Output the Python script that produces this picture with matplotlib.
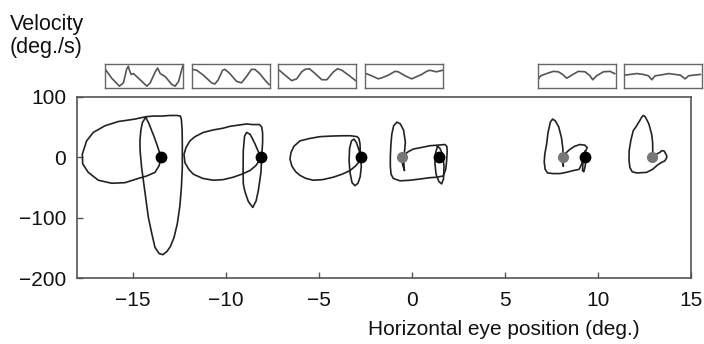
import matplotlib
matplotlib.use("Agg")
import matplotlib.pyplot as plt

plt.rcParams['font.family'] = ['Liberation Sans', 'DejaVu Sans']

# ---- phase-plane loops (eye position deg, velocity deg/s) ----
loop1_x = [-13.50, -13.62, -13.73, -13.88, -14.00, -14.15, -14.27, -14.30,
           -13.90, -13.46, -13.00, -12.65, -12.45, -12.40, -12.36, -12.35, -12.35, -12.40,
           -12.48, -12.62, -12.80, -13.00, -13.19, -13.40, -13.60, -13.82, -14.00, -14.18,
           -14.35, -14.54, -14.62, -14.63, -14.58, -14.50, -14.36, -14.30,
           -14.90, -15.79, -16.51, -17.14, -17.50, -17.73, -17.71, -17.41, -16.87, -16.15,
           -15.43, -14.72, -14.27, -13.82, -13.60, -13.50]
loop1_v = [0, 12, 22, 35, 44, 56, 63, 67,
           68, 68, 69, 69, 68, 62, 45, 20, -17, -50,
           -80, -110, -133, -148, -156, -161, -159, -149, -125, -99,
           -60, -17, 10, 27, 45, 57, 64, 67,
           63, 59, 52, 41, 27, 5, -11, -25, -38, -43,
           -42, -35, -31, -25, -14, 0]

loop2_x = [-8.12, -8.30, -8.44, -8.60, -8.71, -8.89, -9.00, -9.07, -9.08, -9.07, -8.98,
           -8.80, -8.56, -8.38, -8.26, -8.12, -8.08, -8.03, -8.03, -8.08, -8.20, -8.60,
           -8.89, -9.34, -9.80, -10.15, -10.70, -11.22, -11.67, -11.94, -12.15, -12.26,
           -12.21, -12.00, -11.76, -11.25, -10.68, -10.15, -9.61, -9.15, -8.71, -8.40,
           -8.26, -8.12]
loop2_v = [0, 12, 22, 32, 38, 41, 35, 11, -20, -44, -57,
           -73, -83, -72, -55, -25, 0, 25, 40, 50, 54, 54,
           55, 53, 51, 48, 45, 41, 34, 27, 16, 5,
           -9, -20, -28, -35, -38, -37, -33, -28, -22, -14,
           -8, 0]

loop3_x = [-2.76, -2.78, -2.79, -2.85, -2.95, -3.30, -3.69, -4.30, -4.94, -5.50, -6.02,
           -6.35, -6.50, -6.56, -6.45, -6.25, -6.02, -5.70, -5.31, -4.80, -4.23, -3.75,
           -3.33, -3.05, -2.85, -2.76,
           -2.72, -2.78, -2.90, -3.06, -3.22, -3.33, -3.38, -3.35, -3.25, -3.12, -2.98,
           -2.85, -2.76]
loop3_v = [0, 12, 22, 31, 34, 35.5, 35.5, 35, 34, 31, 27,
           18, 8, -3, -15, -24, -30, -35, -38, -37, -33, -28,
           -22, -15, -8, 0,
           -15, -32, -43, -47, -42, -25, -5, 15, 27, 30, 24,
           12, 0]

loop4_x = [-0.55, -0.40, -0.35, -0.45, -0.62, -0.80, -0.98, -1.08, -1.13, -1.16, -1.16,
           -1.12, -1.00, -0.64, -0.10, 0.44, 0.90, 1.33, 1.69, 1.82, 1.87, 1.90,
           1.88, 1.78, 1.40, 0.97, 0.50, 0.07, -0.20, -0.37, -0.45, -0.42, -0.40,
           -0.50, -0.55]
loop4_v = [0, 8, 25, 45, 55, 58, 52, 38, 20, 0, -15,
           -28, -35, -39, -38, -36, -34, -33, -31, -20, -6, 10,
           18, 21, 20, 19, 16, 13.5, 9, 5, -5, -15, -22,
           -12, 0]

loop4b_x = [1.38, 1.28, 1.24, 1.30, 1.45, 1.60, 1.70, 1.73, 1.65, 1.50, 1.38]
loop4b_v = [18, 8, -10, -28, -40, -44, -36, -15, 5, 15, 18]

loop5_x = [8.14, 8.12, 8.05, 7.90, 7.72, 7.57, 7.45, 7.32, 7.25, 7.15, 7.12, 7.17,
           7.30, 7.60, 7.97, 8.30, 8.68, 9.00, 9.15, 9.20, 9.35, 9.43, 9.30, 9.04,
           8.75, 8.50, 8.25, 8.14, 8.12, 8.15, 8.10]
loop5_v = [0, 15, 32, 50, 60, 63, 58, 40, 22, 5, -8, -20,
           -26, -27, -27, -25, -22, -20, -10, 0, 10, 16, 20, 21,
           18, 13, 6, 0, -8, -15, -8]

loop5b_x = [9.31, 9.20, 9.18, 9.25, 9.32, 9.38, 9.31]
loop5b_v = [0, -10, -22, -24, -15, 0, 10]

loop6_x = [12.90, 12.96, 12.95, 12.90, 12.75, 12.62, 12.55, 12.45, 12.36, 12.25, 12.05,
           11.91, 11.78, 11.69, 11.68, 11.73, 11.85, 12.10, 12.63, 12.95, 13.17, 13.40,
           13.61, 13.72, 13.70, 13.58, 13.45, 13.34, 13.15, 13.00, 12.90]
loop6_v = [0, 10, 25, 38, 55, 63, 67, 69, 66, 60, 50,
           44, 28, 11, -5, -17, -24, -26, -25, -20, -14, -9,
           -6, 0, 3, 10, 11, 8, 5, 2, 0]

black_dots_x = [-13.50, -8.12, -2.76, 1.45, 9.31]
gray_dots_x = [-0.55, 8.14, 12.90]

x_ticks = [-15, -10, -5, 0, 5, 10, 15]
y_ticks = [-200, -100, 0, 100]

# ---- inset waveform traces (normalised time, normalised position) ----
tr1_t = [0.013, 0.086, 0.185, 0.236, 0.279, 0.300, 0.313, 0.335, 0.365, 0.429, 0.536,
         0.580, 0.644, 0.674, 0.708, 0.773, 0.858, 0.900, 0.944, 0.987, 1.0]
tr1_y = [0.76, 0.40, 0.04, 0.19, 0.83, 0.94, 0.76, 0.57, 0.61, 0.40, 0.04,
         0.19, 0.69, 0.86, 0.61, 0.47, 0.11, 0.04, 0.26, 0.83, 0.97]
tr2_t = [0.013, 0.064, 0.149, 0.255, 0.298, 0.340, 0.396, 0.426, 0.489, 0.574, 0.638,
         0.702, 0.766, 0.809, 0.872, 0.936, 0.991]
tr2_y = [0.80, 0.76, 0.54, 0.19, 0.14, 0.33, 0.76, 0.80, 0.61, 0.26, 0.19,
         0.47, 0.80, 0.80, 0.61, 0.33, 0.11]
tr3_t = [0.013, 0.086, 0.172, 0.236, 0.300, 0.343, 0.399, 0.472, 0.558, 0.622, 0.708,
         0.760, 0.815, 0.901, 0.991]
tr3_y = [0.76, 0.54, 0.29, 0.37, 0.69, 0.80, 0.83, 0.61, 0.33, 0.33, 0.69,
         0.83, 0.76, 0.54, 0.29]
tr4_t = [0.013, 0.085, 0.171, 0.226, 0.299, 0.385, 0.427, 0.513, 0.598, 0.662, 0.726,
         0.790, 0.830, 0.915, 0.995]
tr4_y = [0.61, 0.51, 0.37, 0.43, 0.54, 0.71, 0.69, 0.51, 0.37, 0.47, 0.57,
         0.71, 0.76, 0.69, 0.76]
tr5_t = [0.009, 0.038, 0.115, 0.200, 0.265, 0.320, 0.372, 0.436, 0.521, 0.607, 0.671,
         0.705, 0.756, 0.842, 0.927, 0.987]
tr5_y = [0.37, 0.51, 0.61, 0.71, 0.69, 0.57, 0.40, 0.54, 0.71, 0.69, 0.51,
         0.33, 0.51, 0.69, 0.71, 0.61]
tr6_t = [0.013, 0.077, 0.163, 0.249, 0.313, 0.356, 0.399, 0.464, 0.571, 0.657, 0.721,
         0.785, 0.828, 0.893, 0.979]
tr6_y = [0.54, 0.57, 0.61, 0.57, 0.51, 0.33, 0.51, 0.54, 0.61, 0.57, 0.54,
         0.37, 0.51, 0.54, 0.57]

W, H = 704, 344
fig = plt.figure(figsize=(W / 100, H / 100), dpi=100)
ax = fig.add_axes([77.3 / W, 1 - 278.3 / H, (690.7 - 77.3) / W, (278.3 - 96.7) / H])

line_kw = dict(color='#222222', lw=1.2, solid_joinstyle='round')
for lx, lv in [(loop1_x, loop1_v), (loop2_x, loop2_v), (loop3_x, loop3_v),
               (loop4_x, loop4_v), (loop4b_x, loop4b_v), (loop5_x, loop5_v),
               (loop5b_x, loop5b_v), (loop6_x, loop6_v)]:
    ax.plot(lx, lv, **line_kw)

ax.plot(gray_dots_x, [0] * len(gray_dots_x), 'o', color='#777777', ms=7, zorder=5)
ax.plot(black_dots_x, [0] * len(black_dots_x), 'o', color='black', ms=7.5, zorder=6)

ax.set_xlim(-18, 15)
ax.set_ylim(-200, 100)
ax.set_xticks(x_ticks)
ax.set_yticks(y_ticks)
ax.set_xticklabels([f"\u2212{abs(t)}" if t < 0 else str(t) for t in x_ticks])
ax.set_yticklabels([f"\u2212{abs(t)}" if t < 0 else str(t) for t in y_ticks])
ax.tick_params(direction='in', length=4, width=1, color='#555555', labelsize=15,
               labelcolor='#111111')
ax.tick_params(axis='x', pad=9)
ax.tick_params(axis='y', pad=8)
for s in ax.spines.values():
    s.set_color('#555555')
    s.set_linewidth(1.2)

fig.text(10 / W, 1 - 14 / H, "Velocity\n(deg./s)", ha='left', va='top', fontsize=15.5,
         color='#111111', linespacing=1.1)
fig.text(504 / W, 1 - 335 / H, "Horizontal eye position (deg.)", ha='center',
         va='baseline', fontsize=15, color='#111111')

# ---- insets ----
box_left = [105, 191.7, 278.3, 365, 537.7, 624]
traces = [(tr1_t, tr1_y), (tr2_t, tr2_y), (tr3_t, tr3_y), (tr4_t, tr4_y),
          (tr5_t, tr5_y), (tr6_t, tr6_y)]
for bl, (tt, ty) in zip(box_left, traces):
    iax = fig.add_axes([bl / W, 1 - 87.7 / H, 78 / W, 23.4 / H])
    iax.plot(tt, ty, color='#555555', lw=1.2)
    iax.set_xlim(0, 1)
    iax.set_ylim(-0.03, 1.03)
    iax.set_xticks([])
    iax.set_yticks([])
    for s in iax.spines.values():
        s.set_color('#666666')
        s.set_linewidth(1.0)

fig.savefig("out.png", dpi=100)
